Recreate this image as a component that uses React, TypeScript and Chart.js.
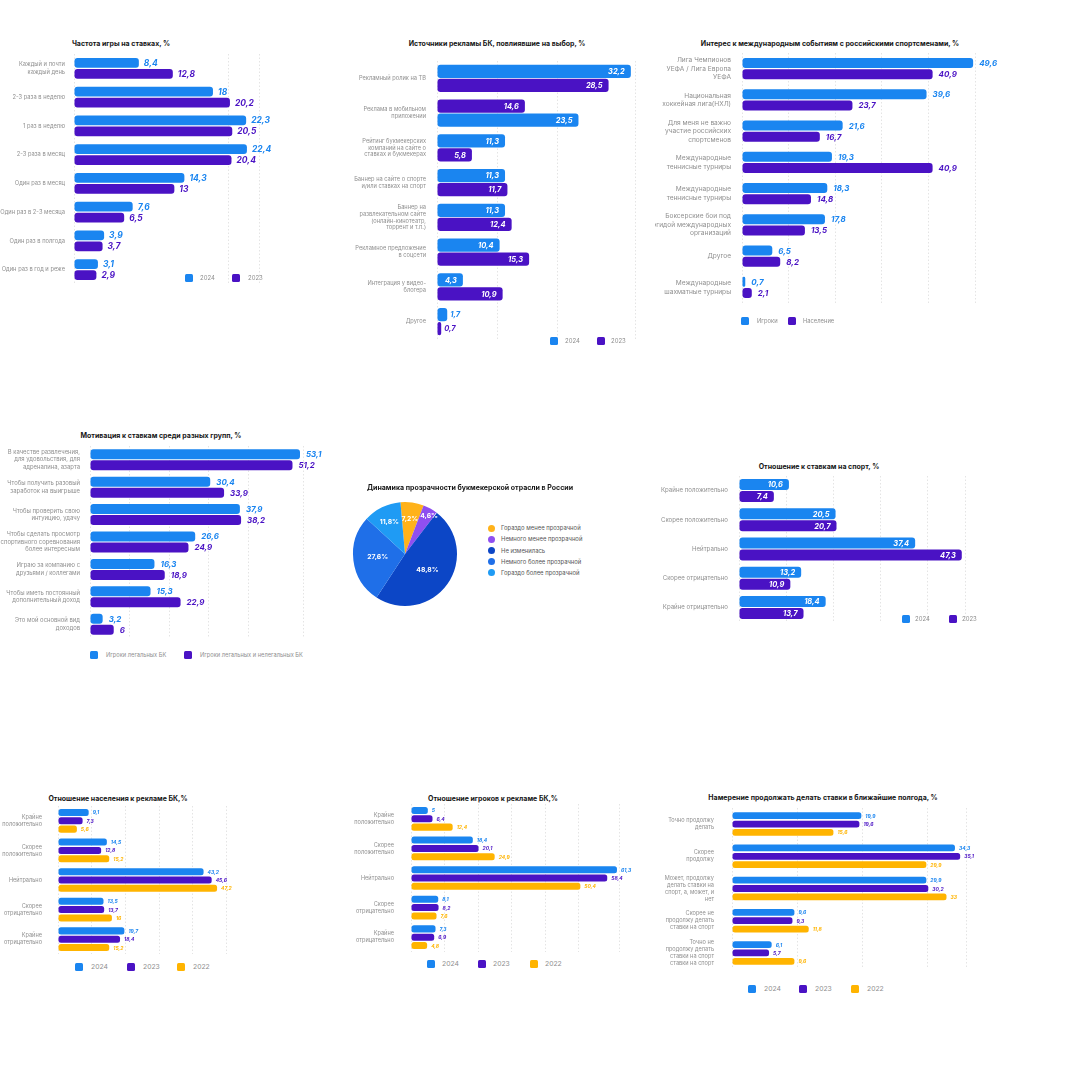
import React, { useEffect, useRef } from 'react';
import { Chart, registerables } from 'chart.js';

Chart.register(...registerables);

// ---------------- DATA ----------------
// Chart 1
const freqCategories = [['Каждый и почти', 'каждый день'], '2-3 раза в неделю', '1 раз в неделю', '2-3 раза в месяц', 'Один раз в месяц', 'Один раз в 2-3 месяца', 'Один раз в полгода', 'Один раз в год и реже'];
const freq2024 = [8.4, 18, 22.3, 22.4, 14.3, 7.6, 3.9, 3.1];
const freq2023 = [12.8, 20.2, 20.5, 20.4, 13, 6.5, 3.7, 2.9];

// Chart 2
const adCategories = ['Рекламный ролик на ТВ', ['Реклама в мобильном', 'приложении'], ['Рейтинг букмекерских', 'компаний на сайте о', 'ставках и букмекерах'], ['Баннер на сайте о спорте', 'и/или ставках на спорт'], ['Баннер на', 'развлекательном сайте', '(онлайн-кинотеатр,', 'торрент и т.п.)'], ['Рекламное предложение', 'в соцсети'], ['Интеграция у видео-', 'блогера'], 'Другое'];
const ad2024 = [32.2, 23.5, 11.3, 11.3, 11.3, 10.4, 4.3, 1.7];
const ad2023 = [28.5, 14.6, 5.8, 11.7, 12.4, 15.3, 10.9, 0.7];
const adSwappedRows = [1]; // rows where 2023 bar is drawn above 2024

// Chart 3
const intlCategories = [['Лига Чемпионов', 'УЕФА / Лига Европа', 'УЕФА'], ['Национальная', 'хоккейная лига(НХЛ)'], ['Для меня не важно', 'участие российских', 'спортсменов'], ['Международные', 'теннисные турниры'], ['Международные', 'теннисные турниры'], ['Боксерские бои под', 'эгидой международных', 'организаций'], 'Другое', ['Международные', 'шахматные турниры']];
const intlPlayers = [49.6, 39.6, 21.6, 19.3, 18.3, 17.8, 6.5, 0.7];
const intlPopulation = [40.9, 23.7, 16.7, 40.9, 14.8, 13.5, 8.2, 2.1];

// Chart 4
const motiveCategories = [['В качестве развлечения,', 'для удовольствия, для', 'адреналина, азарта'], ['Чтобы получить разовый', 'заработок на выигрыше'], ['Чтобы проверить свою', 'интуицию, удачу'], ['Чтобы сделать просмотр', 'спортивного соревнования', 'более интересным'], ['Играю за компанию с', 'друзьями / коллегами'], ['Чтобы иметь постоянный', 'дополнительный доход'], ['Это мой основной вид', 'доходов']];
const motiveLegal = [53.1, 30.4, 37.9, 26.6, 16.3, 15.3, 3.2];
const motiveAll = [51.2, 33.9, 38.2, 24.9, 18.9, 22.9, 6];

// Chart 5
const transparencyLabels = ['Гораздо менее прозрачной', 'Немного менее прозрачной', 'Не изменилась', 'Немного более прозрачной', 'Гораздо более прозрачной'];
const transparencyValues = [7.2, 4.6, 48.8, 27.6, 11.8];

// Chart 6
const attitudeCategories = ['Крайне положительно', 'Скорее положительно', 'Нейтрально', 'Скорее отрицательно', 'Крайне отрицательно'];
const attitude2024 = [10.6, 20.5, 37.4, 13.2, 18.4];
const attitude2023 = [7.4, 20.7, 47.3, 10.9, 13.7];

// Chart 7 & 8
const adAttitudeCategories = [['Крайне', 'положительно'], ['Скорее', 'положительно'], 'Нейтрально', ['Скорее', 'отрицательно'], ['Крайне', 'отрицательно']];
const popAd2024 = [9.1, 14.5, 43.2, 13.5, 19.7];
const popAd2023 = [7.3, 12.8, 45.6, 13.7, 18.4];
const popAd2022 = [5.6, 15.2, 47.2, 16, 15.2];
const playerAd2024 = [5, 18.4, 61.3, 8.1, 7.3];
const playerAd2023 = [6.4, 20.1, 58.4, 8.2, 6.9];
const playerAd2022 = [12.4, 24.9, 50.4, 7.6, 4.8];

// Chart 9
const intentCategories = [['Точно продолжу', 'делать'], ['Скорее', 'продолжу'], ['Может, продолжу', 'делать ставки на', 'спорт, а, может, и', 'нет'], ['Скорее не', 'продолжу делать', 'ставки на спорт'], ['Точно не', 'продолжу делать', 'ставки на спорт', 'ставки на спорт']];
const intent2024 = [19.9, 34.3, 29.9, 9.6, 6.1];
const intent2023 = [19.6, 35.1, 30.2, 9.3, 5.7];
const intent2022 = [15.6, 29.9, 33, 11.8, 9.6];

const yearsTwo = ['2024', '2023'];
const yearsThree = ['2024', '2023', '2022'];
const intlSeriesNames = ['Игроки', 'Население'];
const motiveSeriesNames = ['Игроки легальных БК', 'Игроки легальных и нелегальных БК'];

// ---------------- STYLE ----------------
const FONT = 'Inter, "Noto Sans", sans-serif';
const BLUE = '#1a85f0';
const PURPLE = '#4a12c4';
const YELLOW = '#ffb400';
const PIE_COLORS = ['#ffb21a', '#8f4ff0', '#0c46c6', '#1f6fe8', '#1f9bf4'];
const GREY = '#8f8f8f';

const fmt = (v: number) => String(v).replace('.', ',');

const valueLabelsPlugin = {
  id: 'valueLabels',
  afterDatasetsDraw(chart: any, _args: any, opts: any) {
    if (!opts || !opts.show) return;
    const ctx = chart.ctx;
    ctx.save();
    ctx.font = `italic 700 ${opts.size}px ${FONT}`;
    ctx.textBaseline = 'middle';
    chart.data.datasets.forEach((ds: any, di: number) => {
      const meta = chart.getDatasetMeta(di);
      meta.data.forEach((el: any, i: number) => {
        const v = ds.data[i];
        const text = fmt(v);
        const p = el.getProps(['x', 'y', 'base'], true);
        const color = Array.isArray(ds.backgroundColor) ? ds.backgroundColor[i] : ds.backgroundColor;
        const w = ctx.measureText(text).width;
        const fits = p.x - p.base >= w + 4;
        if (opts.mode === 'inside' && fits) {
          ctx.fillStyle = '#ffffff';
          ctx.textAlign = 'right';
          ctx.fillText(text, p.x - opts.offset, p.y + 0.5);
        } else {
          ctx.fillStyle = color;
          ctx.textAlign = 'left';
          ctx.fillText(text, p.x + (opts.mode === 'inside' ? 3 : opts.offset), p.y + 0.5);
        }
      });
    });
    ctx.restore();
  },
};

const pieLabelsPlugin = {
  id: 'pieLabels',
  afterDatasetsDraw(chart: any, _args: any, opts: any) {
    const ctx = chart.ctx;
    const ds = chart.data.datasets[0];
    const meta = chart.getDatasetMeta(0);
    ctx.save();
    ctx.font = `700 ${opts.size}px ${FONT}`;
    ctx.fillStyle = '#ffffff';
    ctx.textAlign = 'center';
    ctx.textBaseline = 'middle';
    meta.data.forEach((arc: any, i: number) => {
      const p = arc.getProps(['x', 'y', 'startAngle', 'endAngle', 'outerRadius'], true);
      const v = ds.data[i];
      const frac = v < 6 ? 0.86 : v < 15 ? 0.68 : 0.53;
      const mid = (p.startAngle + p.endAngle) / 2 + (v < 6 ? 0.06 : 0);
      ctx.fillText(`${fmt(v)}%`, p.x + Math.cos(mid) * p.outerRadius * frac, p.y + Math.sin(mid) * p.outerRadius * frac);
    });
    ctx.restore();
  },
};

type Series = { data: number[]; colors: string | string[] };
type BarSpec = {
  left: number; top: number; barStart: number; labelRight: number;
  ppu: number; xMax: number; step: number; padRight: number; band: number;
  categories: any[]; series: Series[];
  groupFill: number; barFill: number; radius: number;
  catFont: number; lineHeight: number; valueFont: number; mode: 'inside' | 'outside'; offset: number;
};

function BarChart({ spec }: { spec: BarSpec }) {
  const ref = useRef<HTMLCanvasElement>(null);
  const n = spec.categories.length;
  const axisW = spec.barStart - spec.left;
  const plotW = spec.xMax * spec.ppu;
  const width = Math.ceil(axisW + plotW + spec.padRight);
  const padRight = width - axisW - plotW;
  const height = Math.round(spec.band * n);
  useEffect(() => {
    const chart = new Chart(ref.current as HTMLCanvasElement, {
      type: 'bar',
      data: {
        labels: spec.categories,
        datasets: spec.series.map((s) => ({
          data: s.data,
          backgroundColor: s.colors,
          borderRadius: spec.radius,
          borderSkipped: false,
          categoryPercentage: spec.groupFill,
          barPercentage: spec.barFill,
        })),
      },
      options: {
        indexAxis: 'y',
        responsive: false,
        maintainAspectRatio: false,
        animation: false,
        layout: { padding: { left: 0, right: padRight, top: 0, bottom: 0 } },
        scales: {
          x: {
            min: 0,
            max: spec.xMax,
            grid: { color: '#e4e4e4', drawTicks: false, lineWidth: 1 },
            border: { display: false, dash: [1.5, 2] },
            ticks: { display: false, stepSize: spec.step },
            afterFit: (s: any) => { s.height = 0; s.paddingLeft = 0; s.paddingRight = 0; },
          },
          y: {
            grid: { display: false, drawTicks: false },
            border: { display: false },
            ticks: {
              color: GREY,
              autoSkip: false,
              padding: spec.barStart - spec.labelRight,
              font: { family: FONT, size: spec.catFont, lineHeight: spec.lineHeight },
            },
            afterFit: (s: any) => { s.width = axisW; s.paddingTop = 0; s.paddingBottom = 0; },
          },
        },
        plugins: {
          legend: { display: false },
          tooltip: { enabled: false },
          valueLabels: { show: true, mode: spec.mode, size: spec.valueFont, offset: spec.offset },
        } as any,
      },
      plugins: [valueLabelsPlugin],
    } as any);
    return () => chart.destroy();
  }, []);
  return (
    <canvas
      ref={ref}
      width={width}
      height={height}
      style={{ position: 'absolute', left: spec.left, top: spec.top, width, height }}
    />
  );
}

function PieChart() {
  const ref = useRef<HTMLCanvasElement>(null);
  useEffect(() => {
    const chart = new Chart(ref.current as HTMLCanvasElement, {
      type: 'pie',
      data: {
        labels: transparencyLabels,
        datasets: [{ data: transparencyValues, backgroundColor: PIE_COLORS, borderWidth: 0 }],
      },
      options: {
        responsive: false,
        animation: false,
        rotation: -5,
        layout: { padding: 3 },
        plugins: { legend: { display: false }, tooltip: { enabled: false }, pieLabels: { size: 6.8 } } as any,
      },
      plugins: [pieLabelsPlugin],
    } as any);
    return () => chart.destroy();
  }, []);
  return <canvas ref={ref} width={110} height={110} style={{ position: 'absolute', left: 350, top: 499, width: 110, height: 110 }} />;
}

function Title({ cx, y, text, size = 7 }: { cx: number; y: number; text: string; size?: number }) {
  return (
    <div style={{ position: 'absolute', left: cx - 250, width: 500, top: y - size / 2, height: size, lineHeight: `${size}px`, fontSize: size, fontWeight: 700, color: '#151515', textAlign: 'center', whiteSpace: 'nowrap', fontFamily: FONT }}>
      {text}
    </div>
  );
}

function LegendItem({ x, tx, y, color, text, size = 6, sq = 8, round = false }: { x: number; tx: number; y: number; color: string; text: string; size?: number; sq?: number; round?: boolean }) {
  return (
    <>
      <div style={{ position: 'absolute', left: x, top: y - sq / 2, width: sq, height: sq, background: color, borderRadius: round ? '50%' : 1.5 }} />
      <div style={{ position: 'absolute', left: tx, top: y - size / 2, height: size, lineHeight: `${size}px`, fontSize: size, color: round ? '#555' : GREY, whiteSpace: 'nowrap', fontFamily: FONT }}>{text}</div>
    </>
  );
}

const topColors = ad2024.map((_, i) => (adSwappedRows.includes(i) ? PURPLE : BLUE));
const bottomColors = ad2024.map((_, i) => (adSwappedRows.includes(i) ? BLUE : PURPLE));
const adTop = ad2024.map((v, i) => (adSwappedRows.includes(i) ? ad2023[i] : v));
const adBottom = ad2023.map((v, i) => (adSwappedRows.includes(i) ? ad2024[i] : v));

const common3 = { groupFill: 0.845, barFill: 0.843, radius: 2.5, catFont: 5.6, lineHeight: 1.25, valueFont: 5, mode: 'outside' as const, offset: 4 };

const specs: BarSpec[] = [
  { left: 0, top: 54, barStart: 74, labelRight: 65, ppu: 7.72, xMax: 24, step: 20, padRight: 30, band: 28.75, categories: freqCategories, series: [{ data: freq2024, colors: BLUE }, { data: freq2023, colors: PURPLE }], groupFill: 0.765, barFill: 0.909, radius: 3, catFont: 5.75, lineHeight: 1.3, valueFont: 8.5, mode: 'outside', offset: 5 },
  { left: 340, top: 61, barStart: 437, labelRight: 426, ppu: 6.02, xMax: 33, step: 10, padRight: 12, band: 34.7, categories: adCategories, series: [{ data: adTop, colors: topColors }, { data: adBottom, colors: bottomColors }], groupFill: 0.807, barFill: 0.929, radius: 3, catFont: 5.7, lineHeight: 1.2, valueFont: 7.5, mode: 'inside', offset: 6 },
  { left: 655, top: 53, barStart: 742, labelRight: 731, ppu: 4.66, xMax: 50, step: 10, padRight: 28, band: 31.2, categories: intlCategories, series: [{ data: intlPlayers, colors: BLUE }, { data: intlPopulation, colors: PURPLE }], groupFill: 0.705, barFill: 0.909, radius: 3, catFont: 6.6, lineHeight: 1.28, valueFont: 8, mode: 'outside', offset: 6 },
  { left: 0, top: 446, barStart: 90, labelRight: 80, ppu: 3.955, xMax: 54, step: 10, padRight: 22, band: 27.4, categories: motiveCategories, series: [{ data: motiveLegal, colors: BLUE }, { data: motiveAll, colors: PURPLE }], groupFill: 0.803, barFill: 0.909, radius: 3, catFont: 5.9, lineHeight: 1.3, valueFont: 8, mode: 'outside', offset: 6 },
  { left: 650, top: 476, barStart: 739, labelRight: 728, ppu: 4.71, xMax: 48, step: 10, padRight: 5, band: 29.2, categories: attitudeCategories, series: [{ data: attitude2024, colors: BLUE }, { data: attitude2023, colors: PURPLE }], groupFill: 0.822, barFill: 0.917, radius: 3, catFont: 6.1, lineHeight: 1.2, valueFont: 7.5, mode: 'inside', offset: 6 },
  { left: 0, top: 806, barStart: 58, labelRight: 42, ppu: 3.37, xMax: 50, step: 10, padRight: 16, band: 29.6, categories: adAttitudeCategories, series: [{ data: popAd2024, colors: BLUE }, { data: popAd2023, colors: PURPLE }, { data: popAd2022, colors: YELLOW }], ...common3 },
  { left: 345, top: 804, barStart: 411, labelRight: 394, ppu: 3.36, xMax: 62, step: 10, padRight: 16, band: 29.6, categories: adAttitudeCategories, series: [{ data: playerAd2024, colors: BLUE }, { data: playerAd2023, colors: PURPLE }, { data: playerAd2022, colors: YELLOW }], ...common3 },
  { left: 655, top: 808, barStart: 732, labelRight: 714, ppu: 6.5, xMax: 36, step: 10, padRight: 14, band: 32.1, categories: intentCategories, series: [{ data: intent2024, colors: BLUE }, { data: intent2023, colors: PURPLE }, { data: intent2022, colors: YELLOW }], ...common3, groupFill: 0.78, barFill: 0.81 },
];

export default function App() {
  return (
    <div style={{ position: 'fixed', left: 0, top: 0, width: 1080, height: 1080, background: '#ffffff', overflow: 'hidden', fontFamily: FONT }}>
      {specs.map((s, i) => <BarChart key={i} spec={s} />)}
      <PieChart />

      <Title cx={121} y={43} text="Частота игры на ставках, %" />
      <Title cx={497} y={43} text="Источники рекламы БК, повлиявшие на выбор, %" />
      <Title cx={830} y={43} text="Интерес к международным событиям с российскими спортсменами, %" />
      <Title cx={161} y={435} text="Мотивация к ставкам среди разных групп, %" />
      <Title cx={470} y={487} text="Динамика прозрачности букмекерской отрасли в России" />
      <Title cx={819} y={466} text="Отношение к ставкам на спорт, %" />
      <Title cx={118} y={798} text="Отношение населения к рекламе БК,%" />
      <Title cx={493} y={798} text="Отношение игроков к рекламе БК,%" />
      <Title cx={823} y={797} text="Намерение продолжать делать ставки в ближайшие полгода, %" />

      {/* Chart 1 legend */}
      <LegendItem x={185} tx={200} y={277.5} color={BLUE} text={yearsTwo[0]} />
      <LegendItem x={232} tx={248} y={277.5} color={PURPLE} text={yearsTwo[1]} />
      {/* Chart 2 legend */}
      <LegendItem x={550} tx={565} y={341} color={BLUE} text={yearsTwo[0]} />
      <LegendItem x={597} tx={611} y={341} color={PURPLE} text={yearsTwo[1]} />
      {/* Chart 3 legend */}
      <LegendItem x={741} tx={757} y={321} color={BLUE} text={intlSeriesNames[0]} size={5.8} />
      <LegendItem x={788} tx={803} y={321} color={PURPLE} text={intlSeriesNames[1]} size={5.8} />
      {/* Chart 4 legend */}
      <LegendItem x={90} tx={106} y={655} color={BLUE} text={motiveSeriesNames[0]} size={5.7} />
      <LegendItem x={184} tx={200} y={655} color={PURPLE} text={motiveSeriesNames[1]} size={5.7} />
      {/* Chart 5 legend */}
      {transparencyLabels.map((t, i) => (
        <LegendItem key={t} x={488} tx={501} y={528.3 + i * 11.1} color={PIE_COLORS[i]} text={t} sq={7} round size={5.9} />
      ))}
      {/* Chart 6 legend */}
      <LegendItem x={902} tx={915} y={619} color={BLUE} text={yearsTwo[0]} />
      <LegendItem x={949} tx={962} y={619} color={PURPLE} text={yearsTwo[1]} />
      {/* Chart 7 legend */}
      <LegendItem x={75} tx={91} y={967} color={BLUE} text={yearsThree[0]} size={6.8} />
      <LegendItem x={127} tx={143} y={967} color={PURPLE} text={yearsThree[1]} size={6.8} />
      <LegendItem x={177} tx={193} y={967} color={YELLOW} text={yearsThree[2]} size={6.8} />
      {/* Chart 8 legend */}
      <LegendItem x={427} tx={442} y={964} color={BLUE} text={yearsThree[0]} size={6.8} />
      <LegendItem x={478} tx={493} y={964} color={PURPLE} text={yearsThree[1]} size={6.8} />
      <LegendItem x={530} tx={545} y={964} color={YELLOW} text={yearsThree[2]} size={6.8} />
      {/* Chart 9 legend */}
      <LegendItem x={748} tx={764} y={989} color={BLUE} text={yearsThree[0]} size={6.8} />
      <LegendItem x={799} tx={815} y={989} color={PURPLE} text={yearsThree[1]} size={6.8} />
      <LegendItem x={851} tx={867} y={989} color={YELLOW} text={yearsThree[2]} size={6.8} />
    </div>
  );
}
